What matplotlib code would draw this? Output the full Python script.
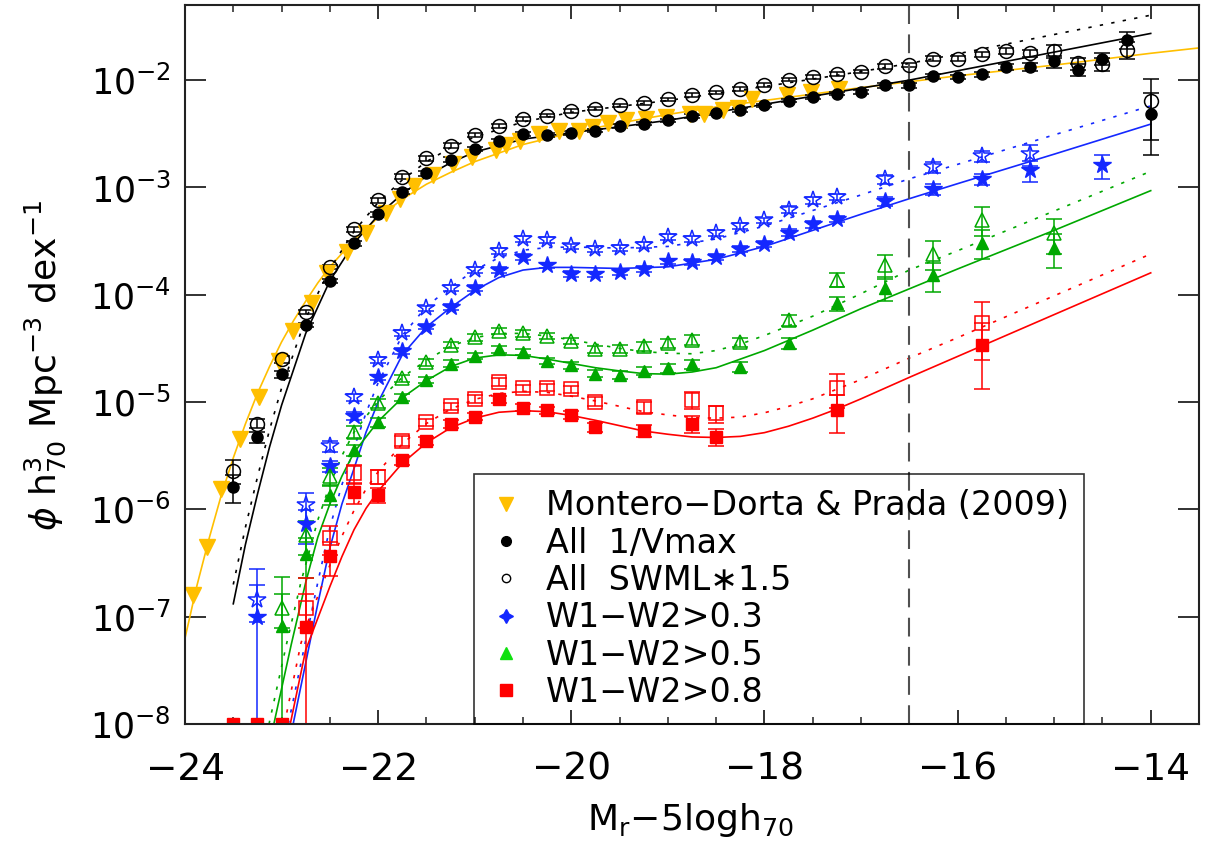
import numpy as np
import matplotlib
matplotlib.use('Agg')
import matplotlib.pyplot as plt
from matplotlib.lines import Line2D
from matplotlib.ticker import MultipleLocator, FixedLocator, NullLocator

plt.rcParams['font.family'] = ['DejaVu Sans']
plt.rcParams['mathtext.fontset'] = 'dejavusans'

# ---- data (log10 phi) ----
# Montero-Dorta & Prada (2009) points
md_mag = [-23.92, -23.775, -23.63, -23.43, -23.23, -23.03, -22.88, -22.68, -22.53, -22.325,
          -22.13, -21.92, -21.77, -21.625, -21.43, -21.225, -21.025, -20.78, -20.675, -20.53,
          -20.33, -20.125, -19.925, -19.775, -19.625, -19.43, -19.23, -19.02, -18.77, -18.63,
          -18.43, -18.27, -18.13, -17.77, -17.52, -17.23]
md_log = [-6.80, -6.35, -5.81, -5.34, -4.955, -4.62, -4.335, -4.075, -3.80, -3.605,
          -3.42, -3.24, -3.11, -2.985, -2.885, -2.785, -2.715, -2.655, -2.605, -2.565,
          -2.50, -2.47, -2.475, -2.435, -2.40, -2.375, -2.36, -2.34, -2.32, -2.32,
          -2.28, -2.26, -2.18, -2.135, -2.11, -2.08]
md_fit_mag = [-24.0, -23.875, -23.75, -23.625, -23.5, -23.375, -23.25, -23.125, -23.0, -22.875,
              -22.75, -22.625, -22.5, -22.25, -22.0, -21.75, -21.5, -21.25, -21.0, -20.5,
              -20.0, -19.5, -19.0, -18.5, -18.0, -17.0, -16.0, -15.0, -14.0, -13.5]
md_fit_log = [-7.20, -6.705, -6.27, -5.87, -5.52, -5.205, -4.92, -4.67, -4.44, -4.24,
              -4.06, -3.89, -3.74, -3.49, -3.28, -3.11, -2.97, -2.86, -2.76, -2.60,
              -2.49, -2.40, -2.32, -2.25, -2.19, -2.07, -1.96, -1.86, -1.75, -1.70]

# All galaxies, 0.25 mag bins
all_mag = [-23.5, -23.25, -23.0, -22.75, -22.5, -22.25, -22.0, -21.75, -21.5, -21.25,
           -21.0, -20.75, -20.5, -20.25, -20.0, -19.75, -19.5, -19.25, -19.0, -18.75,
           -18.5, -18.25, -18.0, -17.75, -17.5, -17.25, -17.0, -16.75, -16.5, -16.25,
           -16.0, -15.75, -15.5, -15.25, -15.0, -14.75, -14.5, -14.25, -14.0]
vmax_log = [-5.79, -5.33, -4.74, -4.28, -3.87, -3.52, -3.25, -3.04, -2.87, -2.74,
            -2.64, -2.57, -2.50, -2.51, -2.49, -2.47, -2.43, -2.405, -2.375, -2.335,
            -2.305, -2.275, -2.235, -2.19, -2.155, -2.125, -2.11, -2.05, -2.05, -1.965,
            -1.97, -1.945, -1.875, -1.875, -1.825, -1.905, -1.80, -1.625, -2.32]
vmax_rel = [0.29, 0.12, 0.08, 0.05, 0.05, 0.05, 0.05, 0.05, 0.05, 0.05,
            0.05, 0.04, 0.04, 0.04, 0.04, 0.04, 0.04, 0.04, 0.04, 0.04,
            0.04, 0.04, 0.04, 0.04, 0.04, 0.04, 0.04, 0.05, 0.05, 0.05,
            0.05, 0.05, 0.06, 0.08, 0.13, 0.13, 0.13, 0.18, 0.58]
swml_log = [-5.64, -5.20, -4.60, -4.16, -3.74, -3.39, -3.12, -2.90, -2.73, -2.61,
            -2.51, -2.43, -2.365, -2.33, -2.29, -2.265, -2.235, -2.21, -2.18, -2.14,
            -2.115, -2.085, -2.045, -1.995, -1.97, -1.945, -1.92, -1.87, -1.86, -1.80,
            -1.80, -1.76, -1.73, -1.75, -1.73, -1.845, -1.85, -1.715, -2.19]
swml_rel = [0.25, 0.10, 0.07, 0.05, 0.05, 0.05, 0.05, 0.05, 0.05, 0.05,
            0.05, 0.04, 0.04, 0.04, 0.04, 0.04, 0.04, 0.04, 0.04, 0.04,
            0.04, 0.04, 0.04, 0.04, 0.04, 0.04, 0.04, 0.05, 0.05, 0.05,
            0.05, 0.05, 0.06, 0.08, 0.13, 0.13, 0.13, 0.18, 0.57]
vmax_fit_mag = [-23.5, -23.375, -23.25, -23.125, -23.0, -22.75, -22.5, -22.25, -22.0, -21.75,
                -21.5, -21.25, -21.0, -20.5, -20.0, -19.5, -19.0, -18.5, -18.0, -17.5,
                -17.0, -16.5, -16.0, -15.0, -14.0]
vmax_fit_log = [-6.88, -6.33, -5.86, -5.42, -5.03, -4.36, -3.87, -3.52, -3.26, -3.06,
                -2.895, -2.77, -2.67, -2.55, -2.49, -2.435, -2.375, -2.30, -2.225, -2.15,
                -2.075, -2.00, -1.913, -1.739, -1.565]
swml_fit_log = [-6.70, -6.17, -5.70, -5.26, -4.87, -4.22, -3.76, -3.41, -3.14, -2.93,
                -2.76, -2.63, -2.53, -2.39, -2.30, -2.245, -2.19, -2.125, -2.06, -1.99,
                -1.92, -1.845, -1.755, -1.575, -1.395]

# W1-W2 > 0.3
w03_mag = [-23.25, -22.75, -22.5, -22.25, -22.0, -21.75, -21.5, -21.25, -21.0, -20.75,
           -20.5, -20.25, -20.0, -19.75, -19.5, -19.25, -19.0, -18.75, -18.5, -18.25,
           -18.0, -17.75, -17.5, -17.25, -16.75, -16.25, -15.75, -15.25, -14.5]
w03_log = [-7.00, -6.135, -5.595, -5.13, -4.77, -4.523, -4.296, -4.112, -3.937, -3.767,
           -3.649, -3.726, -3.804, -3.81, -3.788, -3.757, -3.689, -3.695, -3.649, -3.571,
           -3.524, -3.421, -3.344, -3.291, -3.127, -3.014, -2.926, -2.839, -2.792]
w03_rel = [1.79, 0.35, 0.12, 0.08, 0.06, 0.06, 0.06, 0.06, 0.06, 0.06,
           0.06, 0.06, 0.06, 0.06, 0.06, 0.06, 0.06, 0.06, 0.06, 0.06,
           0.06, 0.07, 0.07, 0.07, 0.10, 0.12, 0.12, 0.22, 0.25]
w03s_mag = w03_mag[:-1]
w03s_log = [-6.845, -5.96, -5.41, -4.957, -4.607, -4.358, -4.128, -3.938, -3.767, -3.593,
            -3.477, -3.487, -3.549, -3.571, -3.561, -3.533, -3.462, -3.477, -3.425, -3.359,
            -3.306, -3.207, -3.12, -3.089, -2.925, -2.812, -2.708, -2.69]
w03s_rel = [0.38, 0.30, 0.12, 0.08, 0.06, 0.06, 0.06, 0.06, 0.06, 0.06,
            0.06, 0.06, 0.06, 0.06, 0.06, 0.06, 0.06, 0.06, 0.06, 0.06,
            0.06, 0.07, 0.07, 0.07, 0.10, 0.12, 0.12, 0.22]
w03_fit_mag = [-22.88, -22.75, -22.625, -22.5, -22.375, -22.25, -22.125, -22.0, -21.75, -21.5,
               -21.25, -21.0, -20.75, -20.5, -20.25, -20.0, -19.5, -19.0, -18.5, -18.0,
               -17.5, -17.0, -16.5, -16.0, -15.0, -14.0]
w03_fit_log = [-8.0, -7.43, -6.88, -6.36, -5.95, -5.62, -5.28, -5.0, -4.56, -4.30,
               -4.12, -3.96, -3.84, -3.77, -3.745, -3.745, -3.755, -3.74, -3.67, -3.55,
               -3.40, -3.25, -3.105, -2.965, -2.69, -2.41]
w03s_fit_mag = [-22.93, -22.75, -22.625, -22.5, -22.375, -22.25, -22.125, -22.0, -21.75, -21.5,
                -21.25, -21.0, -20.75, -20.5, -20.25, -20.0, -19.5, -19.0, -18.5, -18.0,
                -17.5, -17.0, -16.5, -16.0, -15.0, -14.0]
w03s_fit_log = [-8.0, -7.22, -6.68, -6.17, -5.77, -5.43, -5.10, -4.82, -4.38, -4.11,
                -3.93, -3.77, -3.655, -3.585, -3.56, -3.555, -3.565, -3.55, -3.48, -3.36,
                -3.215, -3.07, -2.92, -2.785, -2.51, -2.24]

# W1-W2 > 0.5
w05_mag = [-23.0, -22.75, -22.5, -22.25, -22.0, -21.75, -21.5, -21.25, -21.0, -20.75,
           -20.5, -20.25, -20.0, -19.75, -19.5, -19.25, -19.0, -18.75, -18.25, -17.75,
           -17.25, -16.75, -16.25, -15.75, -15.0]
w05_log = [-7.087, -6.416, -5.866, -5.446, -5.188, -4.955, -4.794, -4.641, -4.569, -4.507,
           -4.532, -4.616, -4.656, -4.734, -4.745, -4.708, -4.683, -4.646, -4.671, -4.453,
           -4.081, -3.935, -3.818, -3.515, -3.56]
w05_rel = [1.85, 0.40, 0.20, 0.12, 0.10, 0.08, 0.07, 0.07, 0.07, 0.07,
           0.07, 0.07, 0.07, 0.08, 0.08, 0.09, 0.10, 0.10, 0.10, 0.12,
           0.15, 0.25, 0.30, 0.30, 0.35]
w05s_log = [-6.922, -6.24, -5.689, -5.276, -5.011, -4.778, -4.631, -4.467, -4.398, -4.336,
            -4.358, -4.383, -4.429, -4.507, -4.506, -4.481, -4.453, -4.419, -4.444, -4.236,
            -3.86, -3.725, -3.616, -3.30, -3.429]
w05s_rel = [0.35, 0.35, 0.18, 0.12, 0.10, 0.08, 0.07, 0.07, 0.07, 0.07,
            0.07, 0.07, 0.07, 0.08, 0.08, 0.09, 0.10, 0.10, 0.10, 0.12,
            0.15, 0.25, 0.30, 0.30, 0.35]
w05_fit_mag = [-23.08, -22.9, -22.75, -22.625, -22.5, -22.375, -22.25, -22.0, -21.75, -21.5,
               -21.25, -21.0, -20.75, -20.5, -20.25, -20.0, -19.75, -19.5, -19.25, -19.0,
               -18.75, -18.5, -18.25, -18.0, -17.5, -17.0, -16.5, -16.0, -15.0, -14.0]
w05_fit_log = [-8.0, -7.26, -6.68, -6.26, -5.95, -5.69, -5.47, -5.18, -4.96, -4.80,
               -4.67, -4.59, -4.56, -4.565, -4.60, -4.64, -4.68, -4.71, -4.735, -4.74,
               -4.72, -4.68, -4.60, -4.52, -4.33, -4.13, -3.945, -3.76, -3.40, -3.03]
w05s_fit_mag = [-23.13, -22.95, -22.8, -22.625, -22.5, -22.375, -22.25, -22.0, -21.75, -21.5,
                -21.25, -21.0, -20.75, -20.5, -20.25, -20.0, -19.75, -19.5, -19.25, -19.0,
                -18.75, -18.5, -18.25, -18.0, -17.5, -17.0, -16.5, -16.0, -15.0, -14.0]
w05s_fit_log = [-8.0, -7.26, -6.68, -6.10, -5.77, -5.50, -5.28, -4.99, -4.77, -4.61,
                -4.48, -4.40, -4.36, -4.36, -4.385, -4.42, -4.46, -4.50, -4.53, -4.545,
                -4.55, -4.52, -4.46, -4.38, -4.20, -3.99, -3.77, -3.59, -3.22, -2.85]

# W1-W2 > 0.8 (first three bins are empty and sit on the floor)
w08_mag = [-23.5, -23.25, -23.0, -22.75, -22.5, -22.25, -22.0, -21.75, -21.5, -21.25,
           -21.0, -20.75, -20.5, -20.25, -20.0, -19.75, -19.25, -18.75, -18.5, -17.25,
           -15.75]
w08_log = [-8.0, -8.0, -8.0, -7.10, -6.434, -5.84, -5.866, -5.54, -5.363, -5.205,
           -5.135, -4.974, -5.051, -5.076, -5.12, -5.232, -5.267, -5.205, -5.323, -5.075,
           -4.471]
w08_rel = [0.0, 0.0, 0.0, 1.88, 0.35, 0.22, 0.15, 0.10, 0.08, 0.08,
           0.08, 0.08, 0.08, 0.08, 0.08, 0.10, 0.12, 0.18, 0.18, 0.39,
           0.61]
w08s_mag = w08_mag[3:]
w08s_log = [-6.92, -6.27, -5.663, -5.695, -5.36, -5.188, -5.04, -4.97, -4.81, -4.871,
            -4.865, -4.88, -4.995, -5.05, -4.978, -5.106, -4.87, -4.262]
w08s_rel = [0.35, 0.30, 0.20, 0.15, 0.10, 0.08, 0.08, 0.08, 0.08, 0.08,
            0.08, 0.08, 0.10, 0.12, 0.18, 0.18, 0.35, 0.55]
w08_fit_mag = [-22.91, -22.75, -22.5, -22.375, -22.25, -22.125, -22.0, -21.75, -21.5, -21.25,
               -21.0, -20.75, -20.5, -20.25, -20.0, -19.75, -19.5, -19.25, -19.0, -18.75,
               -18.5, -18.25, -18.0, -17.75, -17.5, -17.25, -17.0, -16.5, -16.0, -15.0, -14.0]
w08_fit_log = [-8.0, -7.31, -6.72, -6.44, -6.19, -5.99, -5.83, -5.57, -5.38, -5.24,
               -5.15, -5.095, -5.08, -5.09, -5.125, -5.17, -5.22, -5.27, -5.30, -5.325,
               -5.33, -5.32, -5.285, -5.225, -5.15, -5.065, -4.97, -4.77, -4.575, -4.185, -3.796]
w08s_fit_mag = [-22.97, -22.8, -22.75, -22.5, -22.375, -22.25, -22.125, -22.0, -21.75, -21.5,
                -21.25, -21.0, -20.75, -20.5, -20.25, -20.0, -19.75, -19.5, -19.25, -19.0,
                -18.75, -18.5, -18.25, -18.0, -17.75, -17.5, -17.0, -16.5, -16.0, -15.0, -14.0]
w08s_fit_log = [-8.0, -7.25, -7.1, -6.52, -6.25, -6.01, -5.81, -5.65, -5.39, -5.20,
                -5.065, -4.975, -4.92, -4.90, -4.91, -4.945, -4.99, -5.04, -5.09, -5.12,
                -5.145, -5.15, -5.14, -5.10, -5.04, -4.97, -4.79, -4.59, -4.40, -4.01, -3.62]

mag_limit = -16.5
y_ticks = [1e-8, 1e-7, 1e-6, 1e-5, 1e-4, 1e-3, 1e-2]

ORANGE = '#FFBF00'
BLUE = '#1428FF'
GREEN = '#00A800'
RED = '#FF0000'
DOT = (0, (2, 5))


def with_err(logphi, rel):
    phi = 10.0 ** np.asarray(logphi)
    sig = phi * np.asarray(rel)
    low = np.maximum(phi - sig, 1e-12)
    return phi, [phi - low, sig]


fig = plt.figure(figsize=(12.05, 8.47), dpi=100)
ax = fig.add_axes([185 / 1205, 1 - 724 / 847, 1014 / 1205, 719 / 847])
ax.set_yscale('log')

# fitted curves
ax.plot(md_fit_mag, 10.0 ** np.array(md_fit_log), color=ORANGE, lw=1.2)
ax.plot(vmax_fit_mag, 10.0 ** np.array(vmax_fit_log), color='k', lw=1.2)
ax.plot(vmax_fit_mag, 10.0 ** np.array(swml_fit_log), color='k', lw=1.2, ls=DOT)
ax.plot(w03_fit_mag, 10.0 ** np.array(w03_fit_log), color=BLUE, lw=1.2)
ax.plot(w03s_fit_mag, 10.0 ** np.array(w03s_fit_log), color=BLUE, lw=1.2, ls=DOT)
ax.plot(w05_fit_mag, 10.0 ** np.array(w05_fit_log), color=GREEN, lw=1.2)
ax.plot(w05s_fit_mag, 10.0 ** np.array(w05s_fit_log), color=GREEN, lw=1.2, ls=DOT)
ax.plot(w08_fit_mag, 10.0 ** np.array(w08_fit_log), color=RED, lw=1.2)
ax.plot(w08s_fit_mag, 10.0 ** np.array(w08s_fit_log), color=RED, lw=1.2, ls=DOT)

# points with error bars
kw = dict(ls='none', capsize=6, elinewidth=1.1, capthick=1.1)
phi, err = with_err(swml_log, swml_rel)
ax.errorbar(all_mag, phi, yerr=err, fmt='o', ms=10, mfc='none', mec='k', mew=1.1, ecolor='k', **kw)
phi, err = with_err(vmax_log, vmax_rel)
ax.errorbar(all_mag, phi, yerr=err, fmt='o', ms=8, color='k', ecolor='k', **kw)

phi, err = with_err(w03s_log, w03s_rel)
ax.errorbar(w03s_mag, phi, yerr=err, fmt='*', ms=13, mfc='none', mec=BLUE, mew=1.1, ecolor=BLUE, **kw)
phi, err = with_err(w03_log, w03_rel)
ax.errorbar(w03_mag, phi, yerr=err, fmt='*', ms=13, color=BLUE, ecolor=BLUE, **kw)

phi, err = with_err(w05s_log, w05s_rel)
ax.errorbar(w05_mag, phi, yerr=err, fmt='^', ms=10, mfc='none', mec=GREEN, mew=1.1, ecolor=GREEN, **kw)
phi, err = with_err(w05_log, w05_rel)
ax.errorbar(w05_mag, phi, yerr=err, fmt='^', ms=9, color=GREEN, ecolor=GREEN, **kw)

phi, err = with_err(w08s_log, w08s_rel)
ax.errorbar(w08s_mag, phi, yerr=err, fmt='s', ms=10, mfc='none', mec=RED, mew=1.1, ecolor=RED, **kw)
phi, err = with_err(w08_log, w08_rel)
ax.errorbar(w08_mag, phi, yerr=err, fmt='s', ms=9, color=RED, ecolor=RED, **kw)

ax.plot(md_mag, 10.0 ** np.array(md_log), 'v', color=ORANGE, ms=11, ls='none')

ax.axvline(mag_limit, color='#505050', lw=1.5, dashes=(9, 5))

ax.set_xlim(-24, -13.5)
ax.set_ylim(1e-8, 10 ** -1.3)

ax.xaxis.set_major_locator(MultipleLocator(2))
ax.xaxis.set_minor_locator(MultipleLocator(0.5))
ax.yaxis.set_major_locator(FixedLocator(y_ticks))
ax.yaxis.set_minor_locator(NullLocator())
ax.tick_params(which='both', direction='in', top=True, right=True, color='#222222')
ax.tick_params(axis='x', which='major', length=10, width=1.3, labelsize=27, pad=20)
ax.tick_params(axis='x', which='minor', length=5, width=1.1)
ax.tick_params(axis='y', which='major', length=15, width=1.3, labelsize=25, pad=10)
for s in ax.spines.values():
    s.set_linewidth(1.5)
    s.set_color('#222222')

fig.text(45 / 1205, 1 - 365 / 847, r'$\phi$ h$_{70}^{3}$ Mpc$^{-3}$ dex$^{-1}$',
         rotation=90, ha='center', va='center', fontsize=26)
fig.text(690 / 1205, 1 - 820 / 847, r'M$_\mathregular{r}$$-$5logh$_{70}$',
         ha='center', va='center', fontsize=26)

handles = [
    Line2D([], [], ls='none', marker='v', color=ORANGE, ms=10),
    Line2D([], [], ls='none', marker='o', color='k', ms=7),
    Line2D([], [], ls='none', marker='o', mfc='none', mec='k', ms=6),
    Line2D([], [], ls='none', marker=(4, 1, 0), color=BLUE, ms=10),
    Line2D([], [], ls='none', marker='^', color='#10E010', ms=8),
    Line2D([], [], ls='none', marker='s', color=RED, ms=8),
]
labels = ['Montero\u2212Dorta & Prada (2009)', 'All  1/Vmax', 'All  SWML\u22171.5',
          'W1\u2212W2>0.3', 'W1\u2212W2>0.5', 'W1\u2212W2>0.8']
leg = ax.legend(handles, labels, loc='lower left', bbox_to_anchor=(0.285, 0.0),
                fontsize=24, frameon=True, fancybox=False, edgecolor='k',
                facecolor='none', framealpha=None, handlelength=1.0,
                handletextpad=0.7, labelspacing=0.13, borderpad=0.45,
                borderaxespad=0.0)
leg.get_frame().set_linewidth(1.2)

fig.savefig('out.png', dpi=100)
